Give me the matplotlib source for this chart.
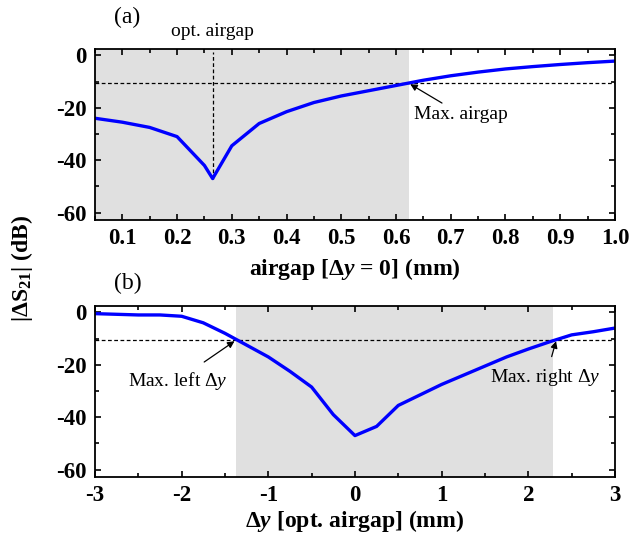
import matplotlib
matplotlib.use("Agg")
import matplotlib.pyplot as plt
from matplotlib.ticker import MultipleLocator

plt.rcParams["font.family"] = ["Liberation Serif", "DejaVu Serif"]
plt.rcParams["font.weight"] = "bold"
plt.rcParams["axes.unicode_minus"] = False
plt.rcParams["mathtext.fontset"] = "custom"
plt.rcParams["mathtext.rm"] = "Liberation Serif:normal"
plt.rcParams["mathtext.it"] = "Liberation Serif:italic:normal"
plt.rcParams["mathtext.bf"] = "Liberation Serif:bold"
plt.rcParams["mathtext.bfit"] = "Liberation Serif:italic:bold"

# (a) airgap sweep at dy = 0
airgap_mm = [0.05, 0.10, 0.15, 0.20, 0.25, 0.265, 0.30, 0.35, 0.40, 0.45, 0.50,
             0.55, 0.60, 0.65, 0.70, 0.75, 0.80, 0.85, 0.90, 0.95, 1.00]
s21_airgap = [-24.0, -25.5, -27.5, -31.0, -42.0, -47.0, -34.5, -26.0, -21.5, -18.0, -15.5,
              -13.5, -11.5, -9.5, -7.8, -6.4, -5.2, -4.3, -3.5, -2.8, -2.2]
opt_airgap = 0.265
max_airgap = 0.623

# (b) lateral offset sweep at optimum airgap
dy_mm = [-3.0, -2.5, -2.25, -2.0, -1.75, -1.5, -1.25, -1.0, -0.75, -0.5, -0.25, 0.0,
         0.25, 0.5, 0.75, 1.0, 1.25, 1.5, 1.75, 2.0, 2.25, 2.5, 2.75, 3.0]
s21_dy = [-0.5, -1.0, -1.0, -1.5, -4.0, -8.0, -12.5, -17.0, -22.5, -28.5, -39.0, -47.0,
          -43.5, -35.5, -31.5, -27.5, -24.0, -20.5, -17.0, -14.0, -11.2, -8.6, -7.4, -6.0]
max_left_dy = -1.37
max_right_dy = 2.29

threshold_db = -10.5
ylims = (-62.8, 2.4)

fig = plt.figure(figsize=(6.33, 5.37), dpi=100)
ax1 = fig.add_axes([0.150, 0.5903, 0.8215, 0.3184])
ax2 = fig.add_axes([0.150, 0.1117, 0.8215, 0.3184])

shade = "#e0e0e0"
blue = "#0000ff"


def style_axes(ax):
    ax.set_ylim(*ylims)
    ax.yaxis.set_major_locator(MultipleLocator(20))
    ax.yaxis.set_minor_locator(MultipleLocator(10))
    ax.tick_params(which="both", direction="in", top=True, right=True, width=1.2)
    ax.tick_params(which="major", length=4.5, labelsize=16.5, pad=6)
    ax.tick_params(which="minor", length=3)
    for sp in ax.spines.values():
        sp.set_linewidth(1.3)


# panel (a)
ax1.axvspan(0.05, max_airgap, color=shade, lw=0)
ax1.axhline(threshold_db, color="black", ls=(0, (3, 2)), lw=0.9)
ax1.plot([opt_airgap, opt_airgap], [min(s21_airgap), 1.3], color="black", ls=(0, (3, 2)), lw=0.9)
ax1.plot(airgap_mm, s21_airgap, color=blue, lw=2.4)
ax1.set_xlim(0.05, 1.0)
ax1.xaxis.set_major_locator(MultipleLocator(0.1))
ax1.xaxis.set_minor_locator(MultipleLocator(0.05))
ax1.set_xticks([0.1, 0.2, 0.3, 0.4, 0.5, 0.6, 0.7, 0.8, 0.9, 1.0])
ax1.set_xticklabels(["0.1", "0.2", "0.3", "0.4", "0.5", "0.6", "0.7", "0.8", "0.9", "1.0"])
style_axes(ax1)
ax1.set_xlabel("airgap [Δ$\\mathbfit{y}$ = 0] (mm)", fontsize=17, fontweight="bold", labelpad=5)
ax1.annotate("Max. airgap", xy=(max_airgap + 0.003, threshold_db - 0.5), xytext=(0.633, -22.5),
             fontsize=14, fontweight="normal", va="center", ha="left",
             arrowprops=dict(arrowstyle="-|>", color="black", lw=0.9, shrinkA=0, shrinkB=0,
                             mutation_scale=10))
ax1.text(opt_airgap, 9.0, "opt. airgap", fontsize=14, fontweight="normal", ha="center", va="center")
ax1.text(0.085, 14.6, "(a)", fontsize=17, fontweight="normal", ha="left", va="center")

# panel (b)
ax2.axvspan(max_left_dy, max_right_dy, color=shade, lw=0)
ax2.axhline(threshold_db, color="black", ls=(0, (3, 2)), lw=0.9)
ax2.plot(dy_mm, s21_dy, color=blue, lw=2.4)
ax2.set_xlim(-3, 3)
ax2.xaxis.set_major_locator(MultipleLocator(1))
ax2.xaxis.set_minor_locator(MultipleLocator(0.5))
style_axes(ax2)
ax2.set_xlabel("Δ$\\mathbfit{y}$ [opt. airgap] (mm)", fontsize=17, fontweight="bold", labelpad=1)
ax2.annotate("Max. left Δ$\\mathit{y}$", xy=(max_left_dy - 0.02, threshold_db - 0.5),
             xytext=(-2.05, -26.0), fontsize=14, fontweight="normal", va="center", ha="center",
             arrowprops=dict(arrowstyle="-|>", color="black", lw=0.9, shrinkA=6, shrinkB=0,
                             mutation_scale=10))
ax2.annotate("Max. right Δ$\\mathit{y}$", xy=(max_right_dy + 0.03, threshold_db - 0.5),
             xytext=(2.2, -25.0), fontsize=14, fontweight="normal", va="center", ha="center",
             arrowprops=dict(arrowstyle="-|>", color="black", lw=0.9, shrinkA=6, shrinkB=0,
                             mutation_scale=10))
ax2.text(-2.78, 11.2, "(b)", fontsize=17, fontweight="normal", ha="left", va="center")

fig.text(0.035, 0.5, "|Δ$\\mathbf{S}_{\\mathbf{21}}$| (dB)", rotation=90, fontsize=17,
         fontweight="bold", ha="center", va="center")

fig.savefig("out.png", dpi=100)
